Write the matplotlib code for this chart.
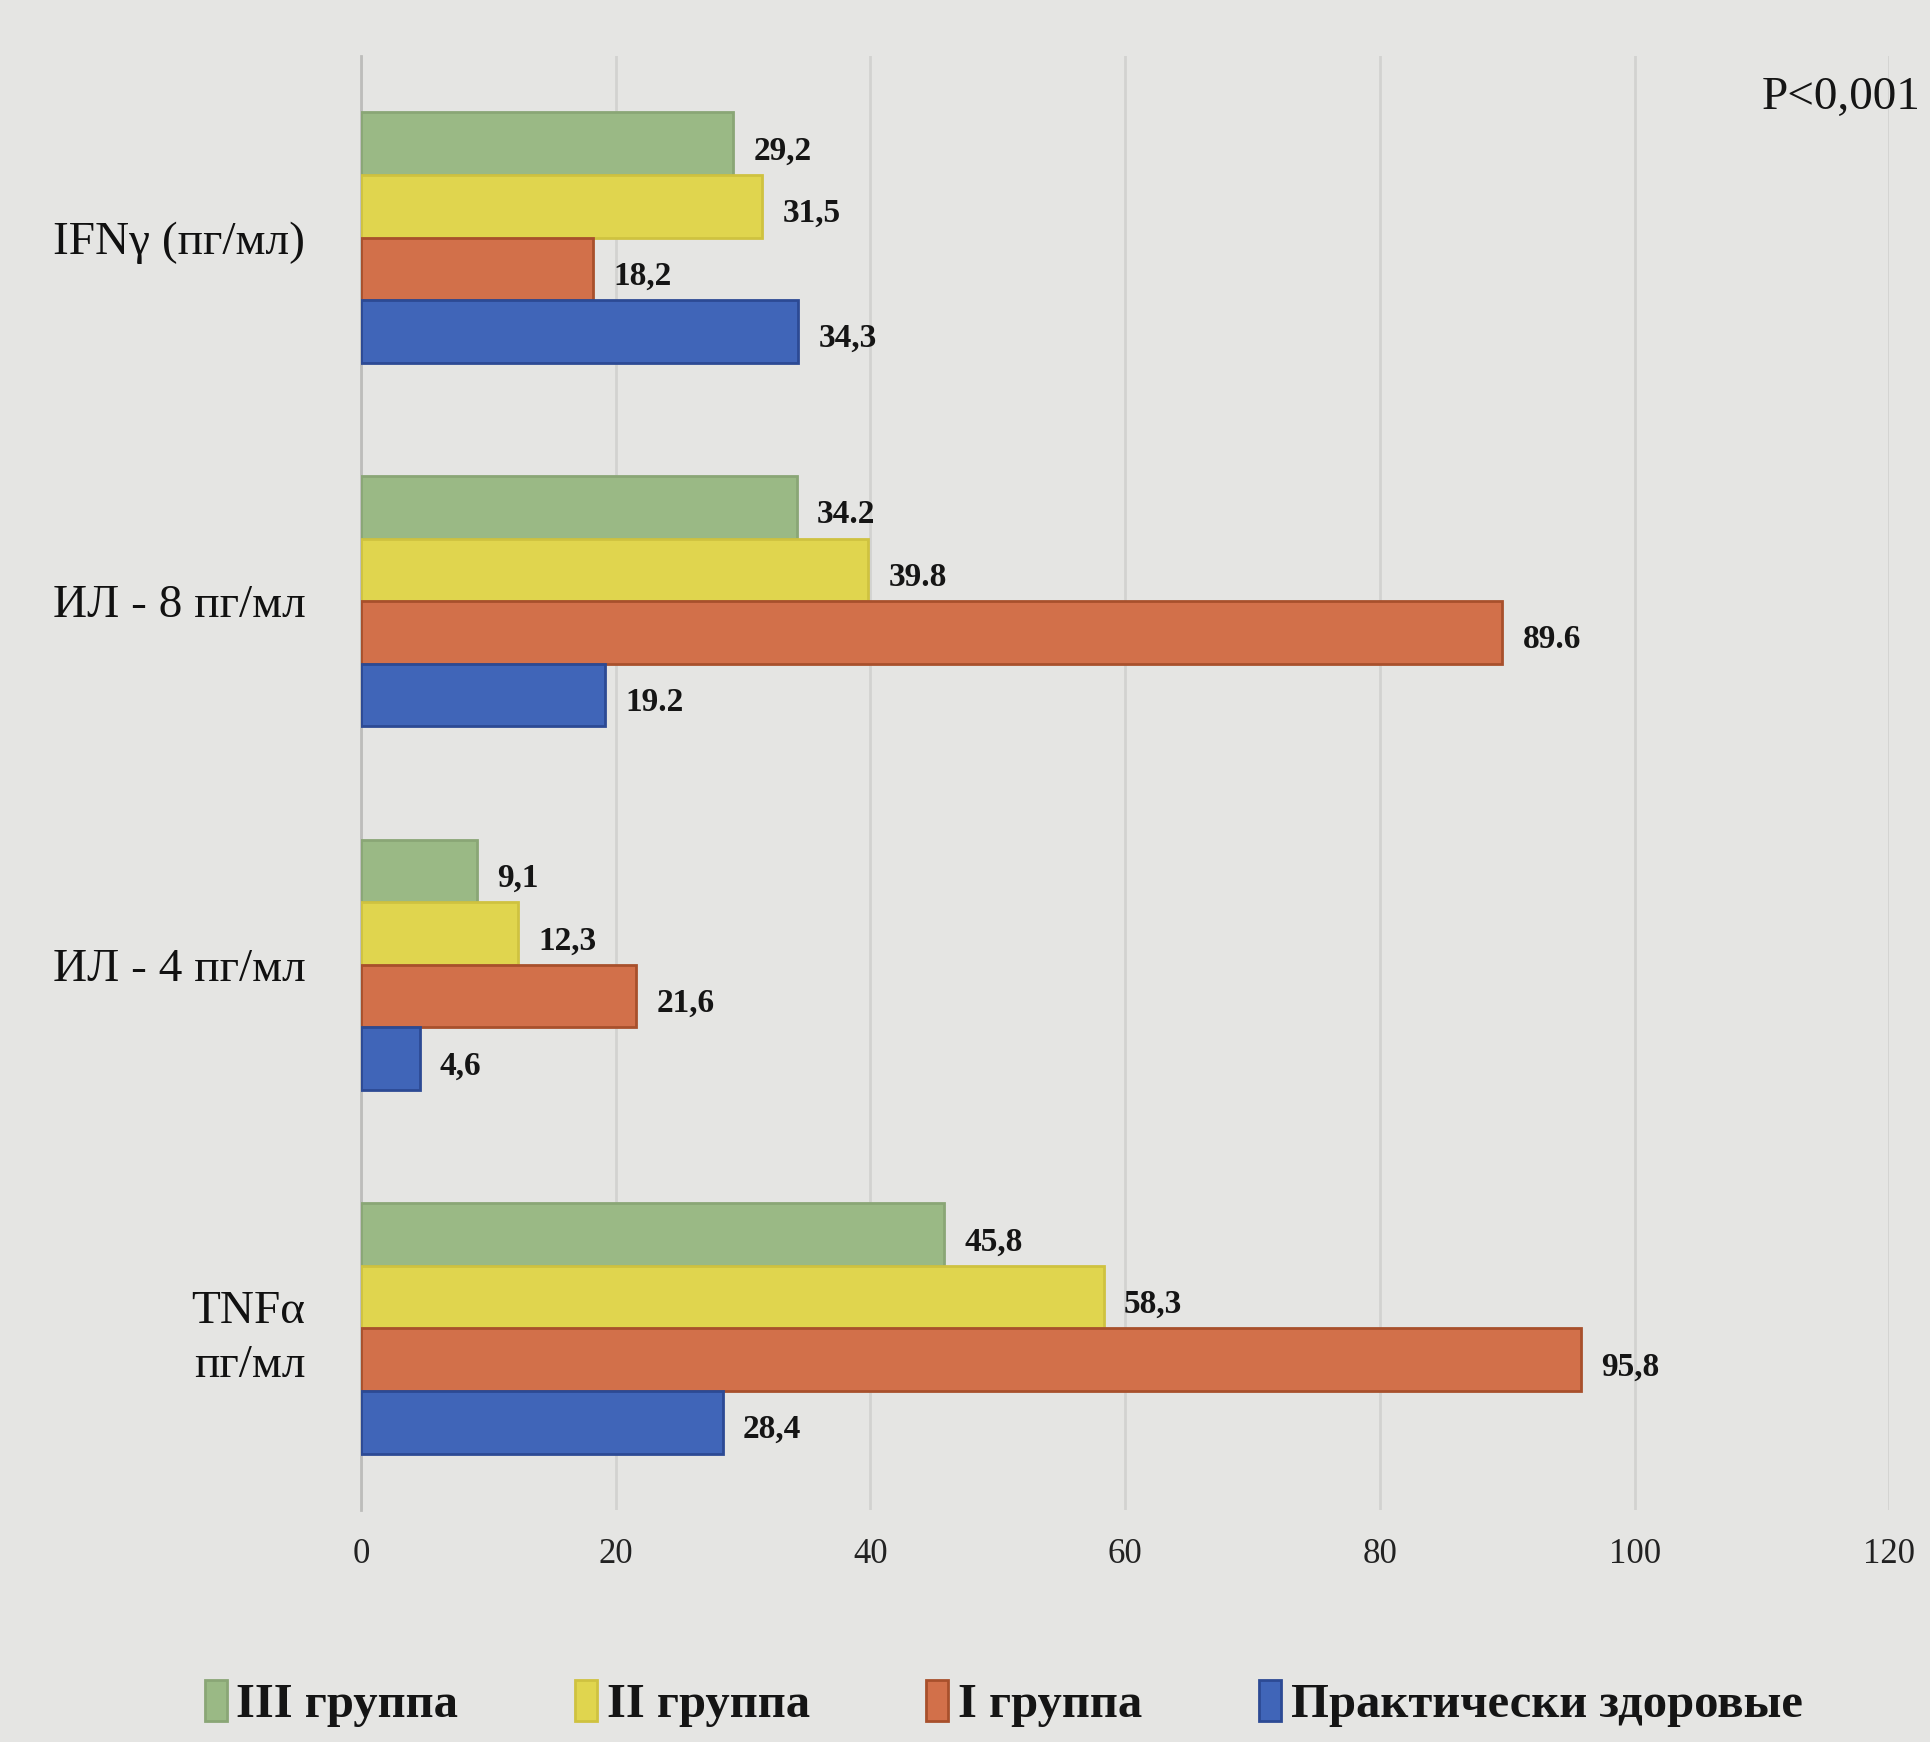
import numpy as np
import matplotlib.pyplot as plt

plt.rcParams['font.family'] = ['Liberation Serif', 'DejaVu Serif']

# cytokines, top to bottom
categories = ['IFNγ (пг/мл)', 'ИЛ - 8 пг/мл', 'ИЛ - 4 пг/мл', 'TNFα\nпг/мл']
decimal_sep = [',', '.', ',', ',']

groups = ['III группа', 'II группа', 'I группа', 'Практически здоровые']
group3 = [29.2, 34.2, 9.1, 45.8]
group2 = [31.5, 39.8, 12.3, 58.3]
group1 = [18.2, 89.6, 21.6, 95.8]
healthy = [34.3, 19.2, 4.6, 28.4]

colors = ['#9ab985', '#e0d54e', '#d2704a', '#4065b8']
edges = ['#8aa676', '#cfc240', '#a8502c', '#2c4a94']

fig = plt.figure(figsize=(19.3, 17.42), dpi=100)
fig.patch.set_facecolor('#e5e5e3')
ax = fig.add_axes([0.187, 0.133, 0.792, 0.835])
ax.set_facecolor('none')

y = np.arange(len(categories))
h = 0.172
series = [group3, group2, group1, healthy]
for i, vals in enumerate(series):
    pos = y - 1.5 * h + i * h
    ax.barh(pos, vals, height=h, color=colors[i], edgecolor=edges[i],
            linewidth=2, label=groups[i], zorder=3)
    for p, v, sep in zip(pos, vals, decimal_sep):
        txt = f'{v:.1f}'.replace('.', sep)
        ax.text(v + 1.6, p + 0.02, txt, va='center', ha='left',
                fontsize=24, fontweight='bold', color='#151515', zorder=4)

ax.set_xlim(0, 120)
ax.set_ylim(len(categories) - 0.5, -0.5)
ax.set_xticks(np.arange(0, 121, 20))
ax.set_yticks(y)
ax.set_yticklabels(categories, fontsize=34, color='#111111', linespacing=1.35)
ax.tick_params(axis='x', labelsize=25, colors='#222222', length=0, pad=20)
ax.tick_params(axis='y', length=0, pad=40)
ax.grid(axis='x', color='#d2d2d0', linewidth=2, zorder=0)
for s in ['top', 'right', 'bottom']:
    ax.spines[s].set_visible(False)
ax.spines['left'].set_color('#bdbdbb')
ax.spines['left'].set_linewidth(2)

fig.text(0.995, 0.944, 'P<0,001', ha='right', va='center', fontsize=34,
         color='#151515')

leg = fig.legend(loc='center', bbox_to_anchor=(0.52, 0.022), ncol=4,
                 frameon=False, handlelength=0.45, handleheight=0.9,
                 handletextpad=0.2, columnspacing=2.4,
                 prop={'size': 35, 'weight': 'bold'})
for t in leg.get_texts():
    t.set_color('#151515')

fig.savefig('out.png', dpi=100, facecolor=fig.get_facecolor())
